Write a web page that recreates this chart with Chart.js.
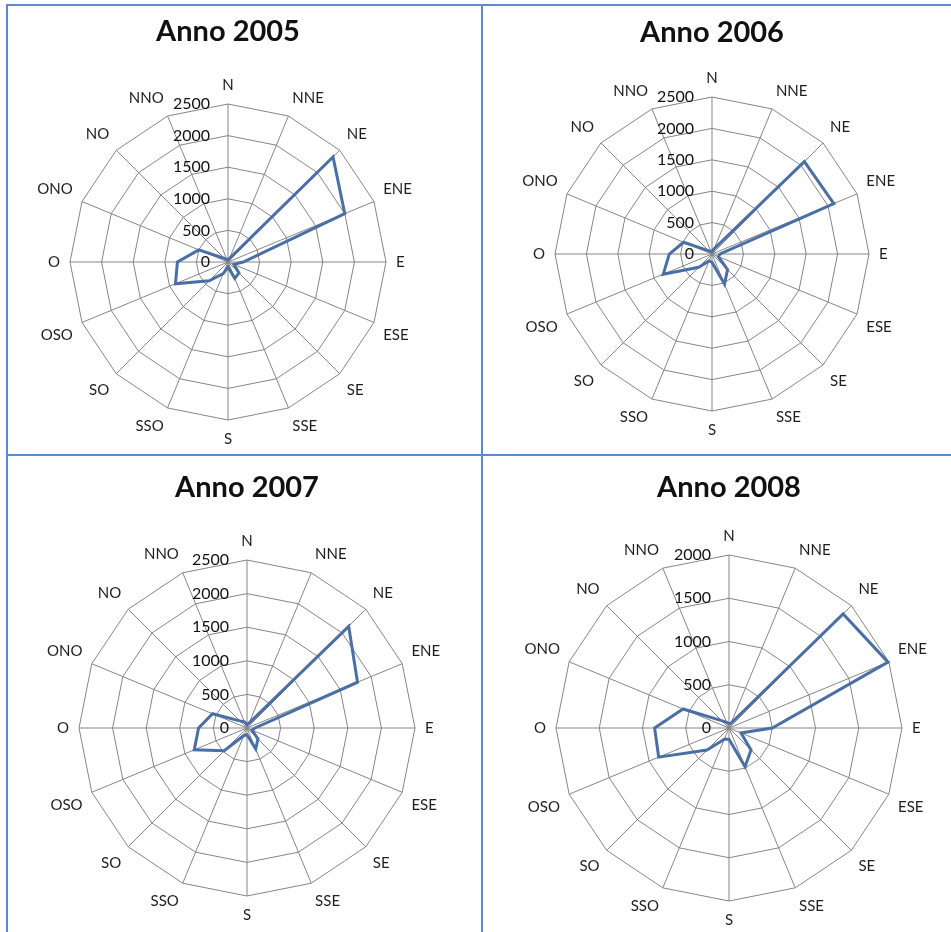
<!DOCTYPE html>
<html><head><meta charset="utf-8">
<script src="https://cdn.jsdelivr.net/npm/chart.js@4.4.0/dist/chart.umd.min.js"></script>
<style>
html,body{margin:0;padding:0;background:#fff;}
body{width:951px;height:932px;position:relative;overflow:hidden;}
.ln{position:absolute;background:#5b8cc8;}
canvas{position:absolute;}
</style></head><body>
<canvas id="c2005"></canvas>
<canvas id="c2006"></canvas>
<canvas id="c2007"></canvas>
<canvas id="c2008"></canvas>
<div class="ln" style="left:6px;top:4px;width:945px;height:2px"></div>
<div class="ln" style="left:6px;top:4px;width:2px;height:928px"></div>
<div class="ln" style="left:481px;top:4px;width:2px;height:928px"></div>
<div class="ln" style="left:6px;top:454px;width:945px;height:2px"></div>
<script>
// ---- data ----
const directions = ['N','NNE','NE','ENE','E','ESE','SE','SSE','S','SSO','SO','OSO','O','ONO','NO','NNO'];
const years = ['2005','2006','2007','2008'];
const values2005 = [40, 60, 2350, 2000, 240, 100, 245, 280, 80, 200, 420, 900, 800, 500, 80, 40];
const values2006 = [40, 90, 2080, 2100, 130, 110, 350, 520, 130, 120, 300, 840, 680, 490, 70, 40];
const values2007 = [50, 80, 2140, 1780, 120, 80, 230, 340, 100, 120, 480, 850, 720, 555, 150, 100];
const values2008 = [50, 60, 1866, 1990, 500, 150, 360, 485, 130, 140, 360, 880, 860, 575, 120, 70];
const ticks2005 = [0, 500, 1000, 1500, 2000, 2500];
const ticks2006 = [0, 500, 1000, 1500, 2000, 2500];
const ticks2007 = [0, 500, 1000, 1500, 2000, 2500];
const ticks2008 = [0, 500, 1000, 1500, 2000];

// ---- layout (positions only) ----
const LABEL_FS = 15, LABEL_LH = 18, LABEL_PAD = 10;
const TITLE_FS = 29, TITLE_LH = TITLE_FS * 1.2;
const layouts = {
  '2005': {cx:228, cy:262, r:158, titleCy:32, left:8,   top:6,   h:448},
  '2006': {cx:712, cy:254, r:157, titleCy:33, left:484, top:6,   h:448},
  '2007': {cx:247, cy:728, r:168, titleCy:488, left:8,  top:457, h:475},
  '2008': {cx:729, cy:728, r:173, titleCy:488, left:496, top:457, h:475}
};

const tickLabelPlugin = {
  id: 'tickLabels',
  afterDatasetsDraw(chart) {
    const s = chart.scales.r;
    const ctx = chart.ctx;
    ctx.save();
    ctx.font = '16px Lato';
    ctx.fillStyle = '#111';
    ctx.textAlign = 'right';
    ctx.textBaseline = 'middle';
    s.ticks.forEach(t => {
      const d = s.getDistanceFromCenterForValue(t.value);
      ctx.fillText(String(t.value), s.xCenter - 18, s.yCenter - d);
    });
    ctx.restore();
  }
};

function makeChart(year, values, ticks) {
  const L = layouts[year];
  const w = 2 * (L.cx - L.left);
  const H = 2 * (L.r + LABEL_PAD + LABEL_LH);
  const areaTop = (L.cy - L.top) - H / 2;
  const tPadTop = (L.titleCy - L.top) - TITLE_LH / 2;
  const tPadBottom = areaTop - tPadTop - TITLE_LH;
  const padBottom = L.h - areaTop - H;
  const cv = document.getElementById('c' + year);
  cv.width = w; cv.height = L.h;
  cv.style.left = L.left + 'px'; cv.style.top = L.top + 'px';
  cv.style.width = w + 'px'; cv.style.height = L.h + 'px';
  new Chart(cv, {
    type: 'radar',
    data: {
      labels: directions,
      datasets: [{
        data: values,
        borderColor: '#4a6fa5',
        borderWidth: 3,
        pointRadius: 0,
        pointHoverRadius: 0,
        fill: false,
        backgroundColor: 'rgba(0,0,0,0)',
        tension: 0
      }]
    },
    options: {
      responsive: false,
      animation: false,
      devicePixelRatio: 1,
      layout: {padding: {left: 0, right: 0, top: 0, bottom: padBottom}},
      plugins: {
        legend: {display: false},
        tooltip: {enabled: false},
        title: {
          display: true,
          text: 'Anno ' + year,
          color: '#111',
          font: {family: 'Lato', size: TITLE_FS, weight: 'bold'},
          padding: {top: tPadTop, bottom: tPadBottom}
        }
      },
      scales: {
        r: {
          min: ticks[0],
          max: ticks[ticks.length - 1],
          ticks: {display: false, stepSize: ticks[1] - ticks[0]},
          grid: {color: '#858585', lineWidth: 1},
          angleLines: {color: '#858585', lineWidth: 1},
          pointLabels: {font: {family: 'Lato', size: LABEL_FS}, color: '#1e1e1e', padding: LABEL_PAD}
        }
      }
    },
    plugins: [tickLabelPlugin]
  });
}

makeChart('2005', values2005, ticks2005);
makeChart('2006', values2006, ticks2006);
makeChart('2007', values2007, ticks2007);
makeChart('2008', values2008, ticks2008);
</script>
</body></html>
